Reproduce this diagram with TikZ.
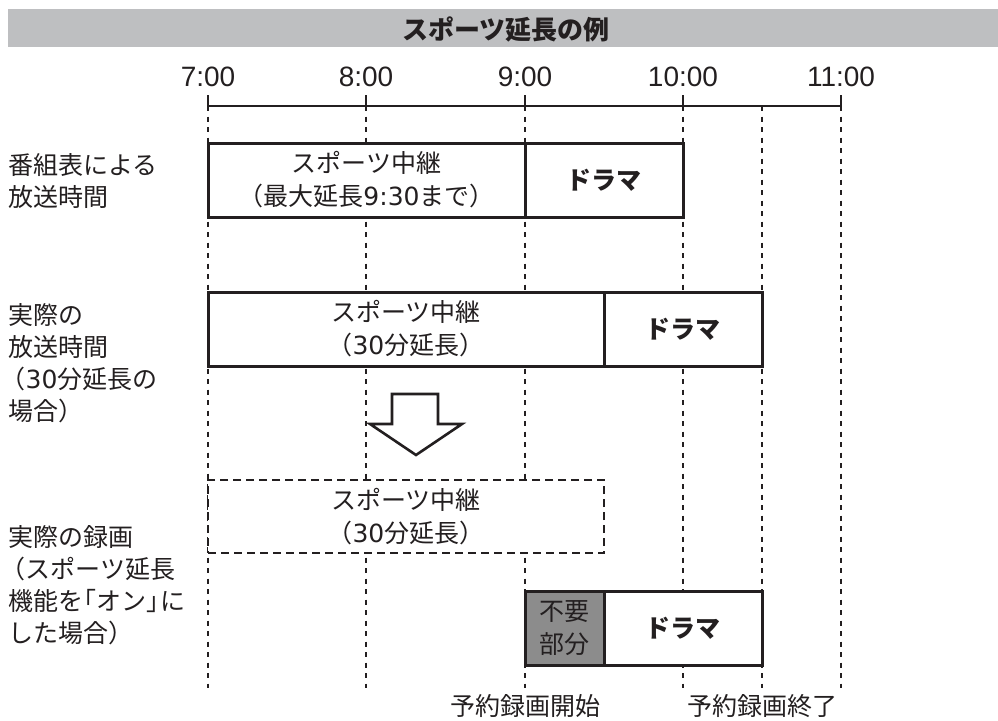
\documentclass[tikz,border=0pt]{standalone}
\usepackage{fontspec}
\setmainfont{Noto Sans CJK JP}
\newfontfamily\numfont{Liberation Sans}
\newfontfamily\digitfont{DejaVu Sans}
\usetikzlibrary{positioning, calc}
\definecolor{inkBlack}{RGB}{35,31,32}
\definecolor{barGray}{RGB}{190,191,193}
\definecolor{skipGray}{RGB}{140,140,140}

% tight brackets and round digits
\newcommand\kakL{\kern-0.45em（}
\newcommand\kakS{\kern-0.3em（}
\newcommand\kakR{）\kern-0.45em}
\newcommand\kagL{\kern-0.45em「}
\newcommand\kagR{」\kern-0.45em}
\newcommand\dg[1]{{\digitfont #1}}

\tikzset{
  txt/.style={text=inkBlack, inner sep=0pt, font=\fontsize{25}{32}\selectfont},
  timelbl/.style={text=inkBlack, inner sep=0pt, font=\numfont\fontsize{28}{28}\selectfont},
  slot/.style={draw=inkBlack, line width=3pt, fill=white, inner sep=0pt, outer sep=0pt,
    align=center, text=inkBlack, minimum height=74pt, font=\fontsize{25}{33}\selectfont},
  dramaslot/.style={slot, minimum width=158pt, font=\bfseries\fontsize{25}{33}\selectfont},
  guide/.style={draw=inkBlack, line width=1.1pt, dash pattern=on 5pt off 5.5pt},
  axis/.style={draw=inkBlack, line width=1.3pt},
}

\begin{document}
\begin{tikzpicture}[x=1pt, y=-1pt]
  \useasboundingbox (0,0) rectangle (998,720);

  % Title bar
  \fill[barGray] (8,9) rectangle (998,47);
  \node[txt, font=\bfseries\fontsize{26}{26}\selectfont] (hdr) at (506,29) {スポーツ延長の例};

  % Time axis
  \foreach \h/\x in {7/208, 8/366, 9/525, 10/683, 11/841} {
    \node[timelbl, anchor=base] (t\h) at (\x,86) {\h:00};
    \draw[axis] (\x,95) -- (\x,106);
  }
  \draw[axis] (208,106) -- (841,106);

  % Dashed guides (half hours included)
  \foreach \x in {208, 366, 525, 683, 762, 841}
    \draw[guide] (\x,106) -- (\x,688);

  % Row labels
  \node[txt, align=left, anchor=west] (lblA) at (8,181) {番組表による\\放送時間};
  \node[txt, align=left, anchor=west] (lblB) at (8,363) {実際の\\放送時間\\\kakS\dg{30}分延長の\\場合\kakR};
  \node[txt, align=left, anchor=west] (lblC) at (8,585) {実際の録画\\\kakS スポーツ延長\\機能を\kagL オン\kagR に\\した場合\kakR};

  % Program guide
  \node[slot, minimum width=317pt, anchor=north west] (sportA) at (208,143) {スポーツ中継\\\kakL 最大延長\dg{9:30}まで\kakR};
  \node[dramaslot, right=0pt of sportA] (dramaA) {ドラマ};

  % Actual broadcast
  \node[slot, minimum width=396pt, anchor=north west] (sportB) at (208,292) {スポーツ中継\\\kakL\dg{30}分延長\kakR};
  \node[dramaslot, right=0pt of sportB] (dramaB) {ドラマ};

  % Down arrow
  \draw[draw=inkBlack, fill=white, line width=2.6pt]
    (392,394) -- (438,394) -- (438,424) -- (462,424) -- (416,455)
    -- (370,424) -- (392,424) -- cycle;

  % Recording
  \node[slot, minimum width=396pt, minimum height=73pt, anchor=north west,
    dash pattern=on 8pt off 5pt, line width=2.8pt] (sportC) at (208,480) {スポーツ中継\\\kakL\dg{30}分延長\kakR};
  \node[slot, fill=skipGray, minimum width=79pt, anchor=north west] (skipD) at (525,591) {不要\\部分};
  \node[dramaslot, right=0pt of skipD] (dramaD) {ドラマ};

  % Timer labels
  \node[txt] (recStart) at (525,706) {予約録画開始};
  \node[txt] (recEnd) at (762,706) {予約録画終了};
\end{tikzpicture}
\end{document}
